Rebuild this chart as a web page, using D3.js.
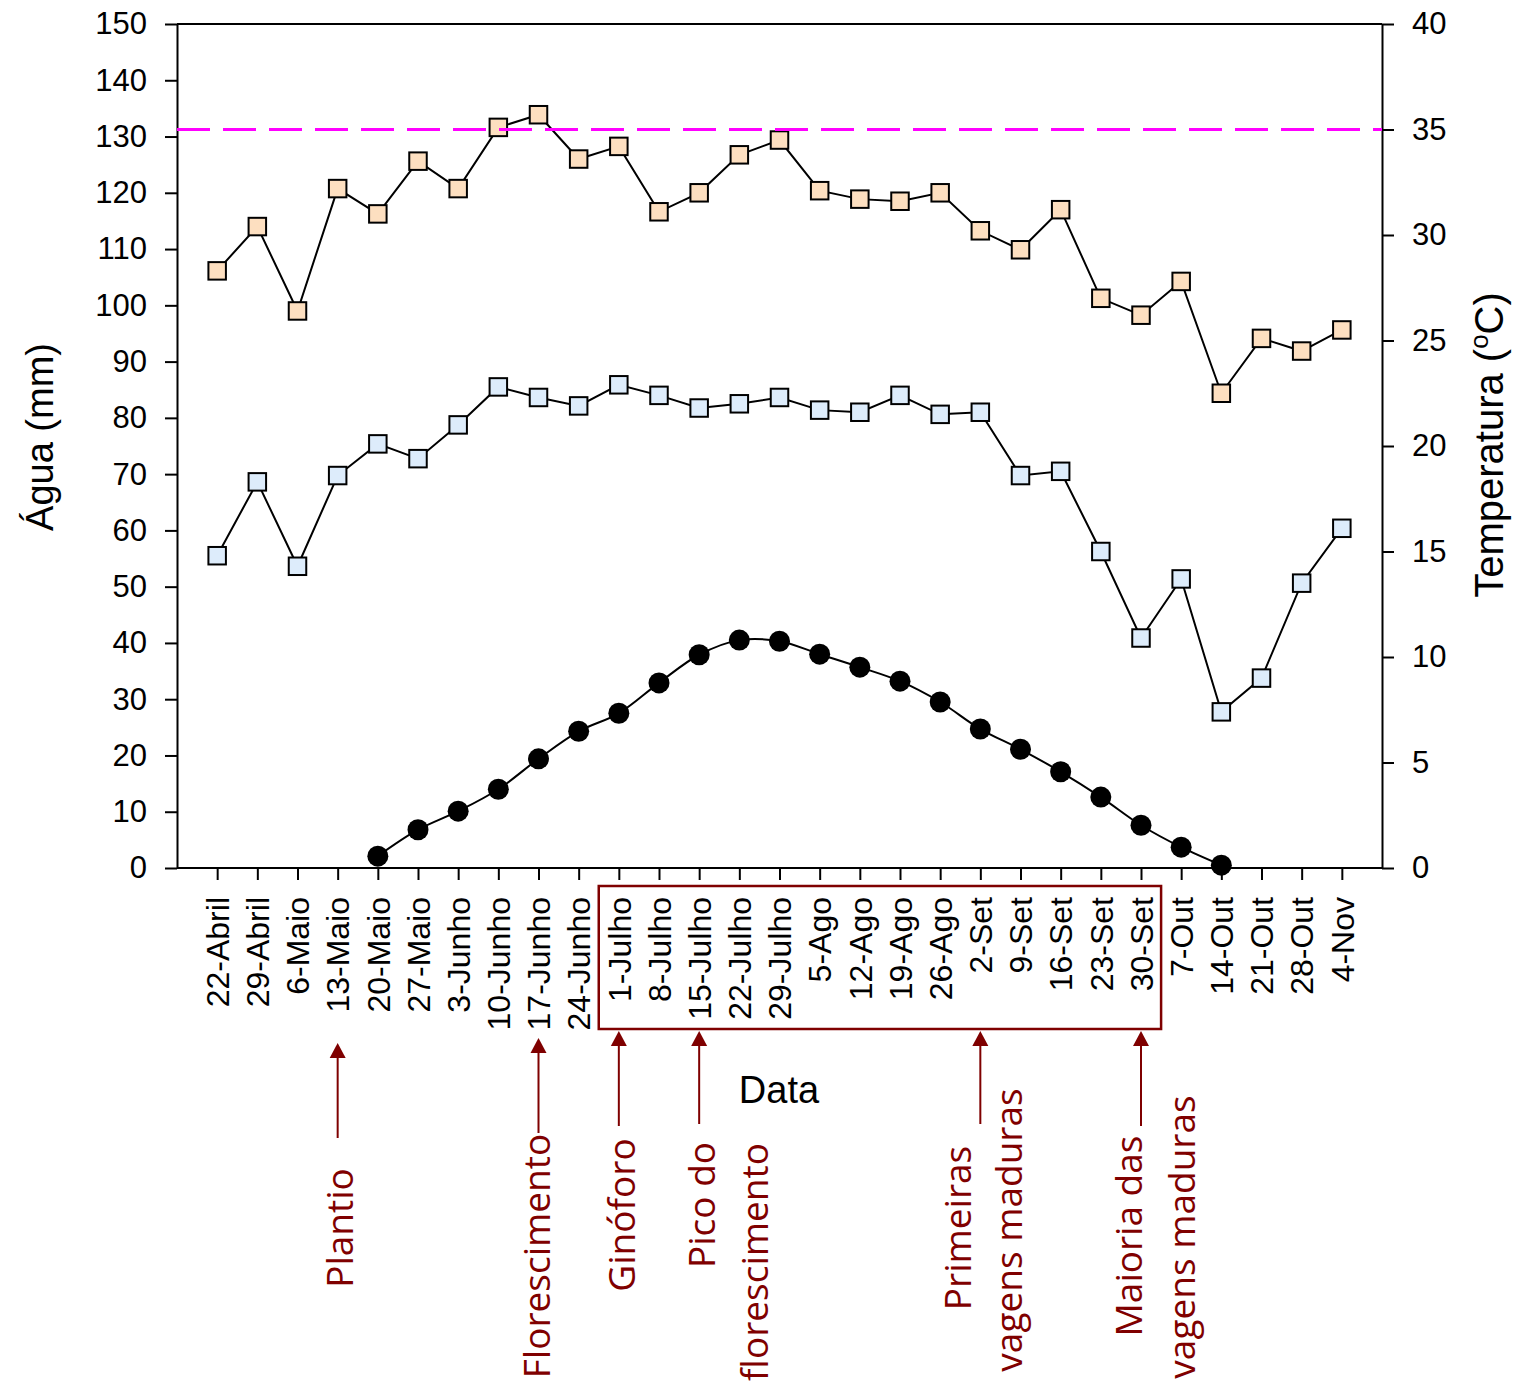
<!DOCTYPE html>
<html><head><meta charset="utf-8">
<script src="https://cdn.jsdelivr.net/npm/d3@7"></script>
<style>body{margin:0;background:#fff} svg{display:block}</style>
</head><body><svg id="c" width="1516" height="1383"></svg>
<script>
// ---------- data ----------
const dates = ["22-Abril","29-Abril","6-Maio","13-Maio","20-Maio","27-Maio","3-Junho","10-Junho","17-Junho","24-Junho",
  "1-Julho","8-Julho","15-Julho","22-Julho","29-Julho","5-Ago","12-Ago","19-Ago","26-Ago","2-Set",
  "9-Set","16-Set","23-Set","30-Set","7-Out","14-Out","21-Out","28-Out","4-Nov"];
// Temperatura máxima (°C)
const tempMax = [28.3,30.4,26.4,32.2,31.0,33.5,32.2,35.1,35.7,33.6,
  34.2,31.1,32.0,33.8,34.5,32.1,31.7,31.6,32.0,30.2,
  29.3,31.2,27.0,26.2,27.8,22.5,25.1,24.5,25.5];
// Temperatura mínima (°C)
const tempMin = [14.8,18.3,14.3,18.6,20.1,19.4,21.0,22.8,22.3,21.9,
  22.9,22.4,21.8,22.0,22.3,21.7,21.6,22.4,21.5,21.6,
  18.6,18.8,15.0,10.9,13.7,7.4,9.0,13.5,16.1];
// Água (mm), 20-Maio .. 14-Out
const aguaDates = dates.slice(4, 26);
const agua = [2.1,6.8,10.1,14.0,19.4,24.3,27.5,32.9,37.9,40.5,40.3,38.0,35.7,33.2,29.5,24.7,21.1,17.1,12.6,7.6,3.7,0.5];
const tempLimit = 35;
const aguaTicks = d3.range(0, 151, 10);
const tempTicks = d3.range(0, 41, 5);
const boxFrom = "1-Julho", boxTo = "30-Set";
const stageDates = ["13-Maio","17-Junho","1-Julho","15-Julho","2-Set","30-Set"];
const stageLabels = [["Plantio"],["Florescimento"],["Ginóforo"],["Pico do","florescimento"],["Primeiras","vagens maduras"],["Maioria das","vagens maduras"]];

// ---------- layout ----------
const L = 177, R = 1382, T = 24, B = 868;
const svg = d3.select("#c");
const x = d3.scalePoint().domain(dates).range([L, R]).padding(1);
const step = x.step();
const yA = d3.scaleLinear().domain([0, 150]).range([B, T]);
const yT = d3.scaleLinear().domain([0, 40]).range([B, T]);
const axisFont = "'Liberation Sans', Arial, sans-serif";
const annFont = "'Open Sans', 'Noto Sans', sans-serif";
const dark = "#7f0000";

// frame top line
svg.append("line").attr("x1", L).attr("x2", R).attr("y1", T).attr("y2", T).attr("stroke", "#000").attr("stroke-width", 2);

function styleAxis(g, fs) {
  g.select(".domain").attr("stroke", "#000").attr("stroke-width", 2);
  g.selectAll(".tick line").attr("stroke", "#000").attr("stroke-width", 2);
  g.selectAll(".tick text").attr("fill", "#000").style("font-family", axisFont).style("font-size", fs + "px");
}
const gl = svg.append("g").attr("transform", `translate(${L},0)`)
  .call(d3.axisLeft(yA).tickValues(aguaTicks).tickSize(12).tickSizeOuter(0).tickPadding(18));
styleAxis(gl, 31);
const gr = svg.append("g").attr("transform", `translate(${R},0)`)
  .call(d3.axisRight(yT).tickValues(tempTicks).tickSize(12).tickSizeOuter(0).tickPadding(18));
styleAxis(gr, 31);
const gb = svg.append("g").attr("transform", `translate(0,${B})`)
  .call(d3.axisBottom(x).tickSize(12).tickSizeOuter(0));
styleAxis(gb, 32);
gb.select(".domain").attr("d", `M${L},0H${R}`);
gb.selectAll(".tick text").attr("transform", "rotate(-90)").attr("x", -29).attr("y", 0).attr("dy", "0.35em").style("text-anchor", "end");

// axis titles
svg.append("text").attr("transform", `translate(53,437) rotate(-90)`).attr("text-anchor", "middle")
  .style("font-family", axisFont).style("font-size", "38px").text("Água (mm)");
const tt = svg.append("text").attr("transform", `translate(1503,445) rotate(-90)`).attr("text-anchor", "middle")
  .style("font-family", axisFont).style("font-size", "40px");
tt.append("tspan").text("Temperatura (");
tt.append("tspan").attr("dy", -15).style("font-size", "26px").text("o");
tt.append("tspan").attr("dy", 15).text("C)");
svg.append("text").attr("x", 779).attr("y", 1103).attr("text-anchor", "middle")
  .style("font-family", axisFont).style("font-size", "38px").text("Data");

// series lines
const lineT = d3.line().x((d, i) => x(dates[i])).y(d => yT(d));
svg.append("path").attr("d", lineT(tempMax)).attr("fill", "none").attr("stroke", "#000").attr("stroke-width", 2);
svg.append("path").attr("d", lineT(tempMin)).attr("fill", "none").attr("stroke", "#000").attr("stroke-width", 2);
const lineA = d3.line().x((d, i) => x(aguaDates[i])).y(d => yA(d)).curve(d3.curveCatmullRom.alpha(0.5));
svg.append("path").attr("d", lineA(agua)).attr("fill", "none").attr("stroke", "#000").attr("stroke-width", 2);

const S = 17.5;
function squares(vals, fill) {
  svg.append("g").selectAll("rect").data(vals).join("rect")
    .attr("x", (d, i) => x(dates[i]) - S / 2).attr("y", d => yT(d) - S / 2)
    .attr("width", S).attr("height", S).attr("fill", fill).attr("stroke", "#000").attr("stroke-width", 2);
}
squares(tempMax, "#fddfc0");
squares(tempMin, "#ddecfb");
svg.append("g").selectAll("circle").data(agua).join("circle")
  .attr("cx", (d, i) => x(aguaDates[i])).attr("cy", d => yA(d)).attr("r", 10.5).attr("fill", "#000");

// limit line
svg.append("line").attr("x1", L).attr("x2", R).attr("y1", yT(tempLimit)).attr("y2", yT(tempLimit))
  .attr("stroke", "#ff00ff").attr("stroke-width", 3).attr("stroke-dasharray", "33,13");

// box
svg.append("rect").attr("x", x(boxFrom) - step / 2).attr("y", 886)
  .attr("width", x(boxTo) - x(boxFrom) + step).attr("height", 143)
  .attr("fill", "none").attr("stroke", dark).attr("stroke-width", 2.5);

// stage arrows and labels
const arrowLayout = [
  {tip: 1043, end: 1138, lines: [{dx: 15, cy: 1228}]},
  {tip: 1038, end: 1133, lines: [{dx: 11, cy: 1256}]},
  {tip: 1031, end: 1126, lines: [{dx: 16, cy: 1215}]},
  {tip: 1031, end: 1124, lines: [{dx: 16, cy: 1205}, {dx: 69, cy: 1262}]},
  {tip: 1031, end: 1124, lines: [{dx: -9, cy: 1228}, {dx: 42, cy: 1230}]},
  {tip: 1031, end: 1126, lines: [{dx: 1, cy: 1236}, {dx: 54, cy: 1237}]}
];
stageDates.forEach((dt, k) => {
  const ax = x(dt), lay = arrowLayout[k];
  svg.append("line").attr("x1", ax).attr("x2", ax).attr("y1", lay.tip + 12).attr("y2", lay.end)
    .attr("stroke", dark).attr("stroke-width", 2);
  svg.append("path").attr("d", `M${ax},${lay.tip}L${ax - 8},${lay.tip + 15}L${ax + 8},${lay.tip + 15}Z`).attr("fill", dark);
  stageLabels[k].forEach((txt, j) => {
    const p = lay.lines[j];
    svg.append("text").attr("transform", `translate(${ax + p.dx},${p.cy}) rotate(-90)`)
      .attr("text-anchor", "middle").attr("fill", dark)
      .style("font-family", annFont).style("font-size", "37px").text(txt);
  });
});
</script></body></html>
